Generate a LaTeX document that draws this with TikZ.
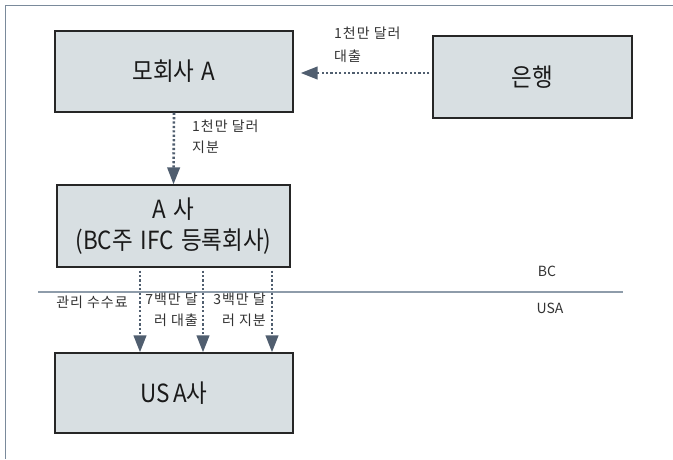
\documentclass[tikz,border=0pt]{standalone}
\usepackage{fontspec}
\setmainfont{Noto Sans CJK KR}
\newfontfamily\krbig[FakeStretch=0.9]{Noto Sans CJK KR}
\newfontfamily\krlbl[LetterSpace=7]{Noto Sans CJK KR}
\newcommand\myboxfont{\krbig\fontsize{25}{31}\selectfont\spaceskip=0.3em plus 0.1em\relax}
\newcommand\tightsp{\spaceskip=0.14em\relax}
\usetikzlibrary{arrows.meta}
\definecolor{boxfill}{HTML}{D8DFE2}
\definecolor{arrowc}{HTML}{505E6F}
\definecolor{framec}{HTML}{7A8A9B}
\definecolor{textc}{HTML}{1A1A1A}
\definecolor{labelc}{HTML}{333333}
\begin{document}
\begin{tikzpicture}[x=1pt,y=-1pt,
  entity/.style={draw=black!85,line width=1.3pt,fill=boxfill,inner sep=0pt,
    align=center,text=textc,font=\myboxfont},
  flow/.style={draw=arrowc,line width=2.6pt,dash pattern=on 2.2pt off 2.2pt,
    -{Triangle[length=17pt,width=12.5pt]}},
  lbl/.style={inner sep=0pt,text=labelc,font=\krlbl\fontsize{14}{21}\selectfont},
  frameline/.style={draw=framec,line width=1.4pt},
  border/.style={draw=framec!85,line width=1.4pt}]
\useasboundingbox (0,0) rectangle (673,459);
\draw[frameline] (673,5.5) -- (5.5,5.5) -- (5.5,459);
\node[entity,minimum width=238pt,minimum height=81pt] (parent) at (174,71.5) {모회사 A};
\node[entity,minimum width=199pt,minimum height=82pt] (bank) at (532.5,77) {은행};
\node[entity,minimum width=233pt,minimum height=82pt] (acorp) at (173.5,226) {A 사\\(BC주 IFC 등록회사)};
\node[entity,minimum width=238pt,minimum height=80pt] (usa) at (174,393) {\tightsp US A사};
% border line
\coordinate (sepL) at (38,292);
\coordinate (sepR) at (623,292);
\draw[border] (sepL) -- (sepR);
% arrows
\draw[flow,shorten <=3pt,shorten >=7pt] ([yshift=4pt]bank.west) -- ([yshift=4pt]bank.west -| parent.east);
\draw[flow] (parent.south) -- (acorp.north);
\draw[flow,shorten <=3pt] ([xshift=-33.5pt]acorp.south) -- ([xshift=-33.5pt]acorp.south |- usa.north);
\draw[flow,shorten <=3pt] ([xshift=29.5pt]acorp.south) -- ([xshift=29.5pt]acorp.south |- usa.north);
\draw[flow,shorten <=3pt] ([xshift=98.5pt]acorp.south) -- ([xshift=98.5pt]acorp.south |- usa.north);
% labels
\node[lbl,align=left,anchor=north west,font=\krlbl\fontsize{14}{23}\selectfont] (l1) at (334,27) {1천만 달러\\대출};
\node[lbl,align=left,anchor=north west] (l2) at (192,120) {1천만 달러\\지분};
\node[lbl] (l3) at (92,302) {관리 수수료};
\node[lbl,align=right,anchor=north east,font=\krlbl\fontsize{14}{20.5}\selectfont] (l4) at (198,293) {7백만 달\\러 대출};
\node[lbl,align=right,anchor=north east,font=\krlbl\fontsize{14}{20.5}\selectfont] (l5) at (266,293) {3백만 달\\러 지분};
\node[lbl,font=\fontsize{14}{16}\selectfont] (bc) at (547,271) {BC};
\node[lbl,font=\fontsize{14}{16}\selectfont] (us) at (550,308) {USA};
\end{tikzpicture}
\end{document}
